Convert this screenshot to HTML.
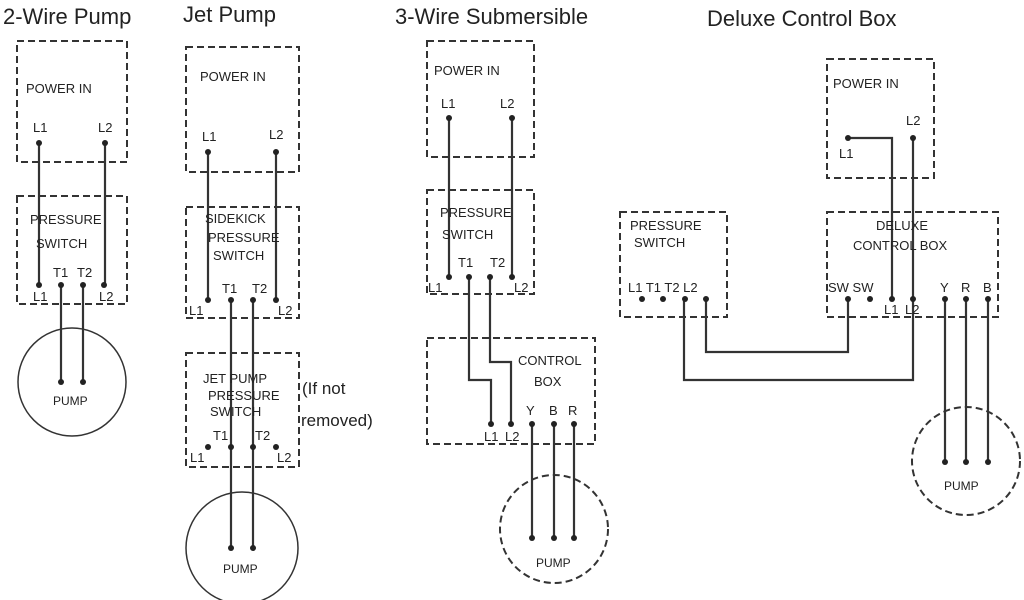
<!DOCTYPE html>
<html><head><style>html,body{margin:0;padding:0;background:#fff;}svg{display:block;}</style></head>
<body>
<svg width="1024" height="600" viewBox="0 0 1024 600" xmlns="http://www.w3.org/2000/svg" font-family="Liberation Sans, sans-serif">
<g font-size="22" fill="#222">
<text x="3" y="24">2-Wire Pump</text>
<text x="183" y="22">Jet Pump</text>
<text x="395" y="24">3-Wire Submersible</text>
<text x="707" y="26">Deluxe Control Box</text>
</g>
<g fill="none" stroke="#333" stroke-width="2" stroke-dasharray="7 4">
<rect x="17" y="41" width="110" height="121"/>
<rect x="17" y="196" width="110" height="108"/>
<rect x="186" y="47" width="113" height="125"/>
<rect x="186" y="207" width="113" height="111"/>
<rect x="186" y="353" width="113" height="114"/>
<rect x="427" y="41" width="107" height="116"/>
<rect x="427" y="190" width="107" height="104"/>
<rect x="427" y="338" width="168" height="106"/>
<rect x="827" y="59" width="107" height="119"/>
<rect x="620" y="212" width="107" height="105"/>
<rect x="827" y="212" width="171" height="105"/>
<circle cx="554" cy="529" r="54"/>
<circle cx="966" cy="461" r="54"/>
</g>
<g fill="none" stroke="#333" stroke-width="1.5">
<circle cx="72" cy="382" r="54"/>
<circle cx="242" cy="548" r="56"/>
</g>
<g fill="none" stroke="#333" stroke-width="2.2">
<path d="M39 143V285M105 143V285M61 285V382M83 285V382"/>
<path d="M208 152V300M276 152V300M231 300V548M253 300V548"/>
<path d="M449 118V277M512 118V277M469 277V380H491V424M490 277V362H511V424M532 424V538M554 424V538M574 424V538"/>
<path d="M848 138H892V299M913 138V380H684V299M706 299V352H848V299M945 299V462M966 299V462M988 299V462"/>
</g>
<g fill="#222">
<circle cx="39" cy="143" r="3"/><circle cx="105" cy="143" r="3"/>
<circle cx="39" cy="285" r="3"/><circle cx="61" cy="285" r="3"/><circle cx="83" cy="285" r="3"/><circle cx="104" cy="285" r="3"/>
<circle cx="61" cy="382" r="3"/><circle cx="83" cy="382" r="3"/>
<circle cx="208" cy="152" r="3"/><circle cx="276" cy="152" r="3"/>
<circle cx="208" cy="300" r="3"/><circle cx="231" cy="300" r="3"/><circle cx="253" cy="300" r="3"/><circle cx="276" cy="300" r="3"/>
<circle cx="208" cy="447" r="3"/><circle cx="231" cy="447" r="3"/><circle cx="253" cy="447" r="3"/><circle cx="276" cy="447" r="3"/>
<circle cx="231" cy="548" r="3"/><circle cx="253" cy="548" r="3"/>
<circle cx="449" cy="118" r="3"/><circle cx="512" cy="118" r="3"/>
<circle cx="449" cy="277" r="3"/><circle cx="469" cy="277" r="3"/><circle cx="490" cy="277" r="3"/><circle cx="512" cy="277" r="3"/>
<circle cx="491" cy="424" r="3"/><circle cx="511" cy="424" r="3"/><circle cx="532" cy="424" r="3"/><circle cx="554" cy="424" r="3"/><circle cx="574" cy="424" r="3"/>
<circle cx="532" cy="538" r="3"/><circle cx="554" cy="538" r="3"/><circle cx="574" cy="538" r="3"/>
<circle cx="848" cy="138" r="3"/><circle cx="913" cy="138" r="3"/>
<circle cx="642" cy="299" r="3"/><circle cx="663" cy="299" r="3"/><circle cx="685" cy="299" r="3"/><circle cx="706" cy="299" r="3"/>
<circle cx="848" cy="299" r="3"/><circle cx="870" cy="299" r="3"/><circle cx="892" cy="299" r="3"/><circle cx="913" cy="299" r="3"/><circle cx="945" cy="299" r="3"/><circle cx="966" cy="299" r="3"/><circle cx="988" cy="299" r="3"/>
<circle cx="945" cy="462" r="3"/><circle cx="966" cy="462" r="3"/><circle cx="988" cy="462" r="3"/>
</g>
<g font-size="13" fill="#222">
<text x="26" y="93">POWER IN</text>
<text x="33" y="132">L1</text><text x="98" y="132">L2</text>
<text x="30" y="224">PRESSURE</text><text x="36" y="248">SWITCH</text>
<text x="53" y="277">T1</text><text x="77" y="277">T2</text>
<text x="33" y="301">L1</text><text x="99" y="301">L2</text>
<text x="53" y="405" font-size="12">PUMP</text>

<text x="200" y="81">POWER IN</text>
<text x="202" y="141">L1</text><text x="269" y="139">L2</text>
<text x="205" y="223">SIDEKICK</text><text x="208" y="242">PRESSURE</text><text x="213" y="260">SWITCH</text>
<text x="222" y="293">T1</text><text x="252" y="293">T2</text>
<text x="189" y="315">L1</text><text x="278" y="315">L2</text>
<text x="203" y="383">JET PUMP</text><text x="208" y="400">PRESSURE</text><text x="210" y="416">SWITCH</text>
<text x="213" y="440">T1</text><text x="255" y="440">T2</text>
<text x="190" y="462">L1</text><text x="277" y="462">L2</text>
<text x="223" y="573" font-size="12">PUMP</text>
<text x="302" y="394" font-size="17">(If not</text>
<text x="301" y="426" font-size="17">removed)</text>

<text x="434" y="75">POWER IN</text>
<text x="441" y="108">L1</text><text x="500" y="108">L2</text>
<text x="440" y="217">PRESSURE</text><text x="442" y="239">SWITCH</text>
<text x="458" y="267">T1</text><text x="490" y="267">T2</text>
<text x="428" y="292">L1</text><text x="514" y="292">L2</text>
<text x="518" y="365">CONTROL</text><text x="534" y="386">BOX</text>
<text x="526" y="415">Y</text><text x="549" y="415">B</text><text x="568" y="415">R</text>
<text x="484" y="441">L1</text><text x="505" y="441">L2</text>
<text x="536" y="567" font-size="12">PUMP</text>

<text x="833" y="88">POWER IN</text>
<text x="906" y="125">L2</text>
<text x="839" y="158">L1</text>
<text x="630" y="230">PRESSURE</text><text x="634" y="247">SWITCH</text>
<text x="628" y="292">L1 T1 T2 L2</text>
<text x="876" y="230">DELUXE</text><text x="853" y="250">CONTROL BOX</text>
<text x="828" y="292">SW SW</text>
<text x="940" y="292">Y</text><text x="961" y="292">R</text><text x="983" y="292">B</text>
<text x="884" y="314">L1</text><text x="905" y="314">L2</text>
<text x="944" y="490" font-size="12">PUMP</text>
</g>
</svg>
</body></html>
